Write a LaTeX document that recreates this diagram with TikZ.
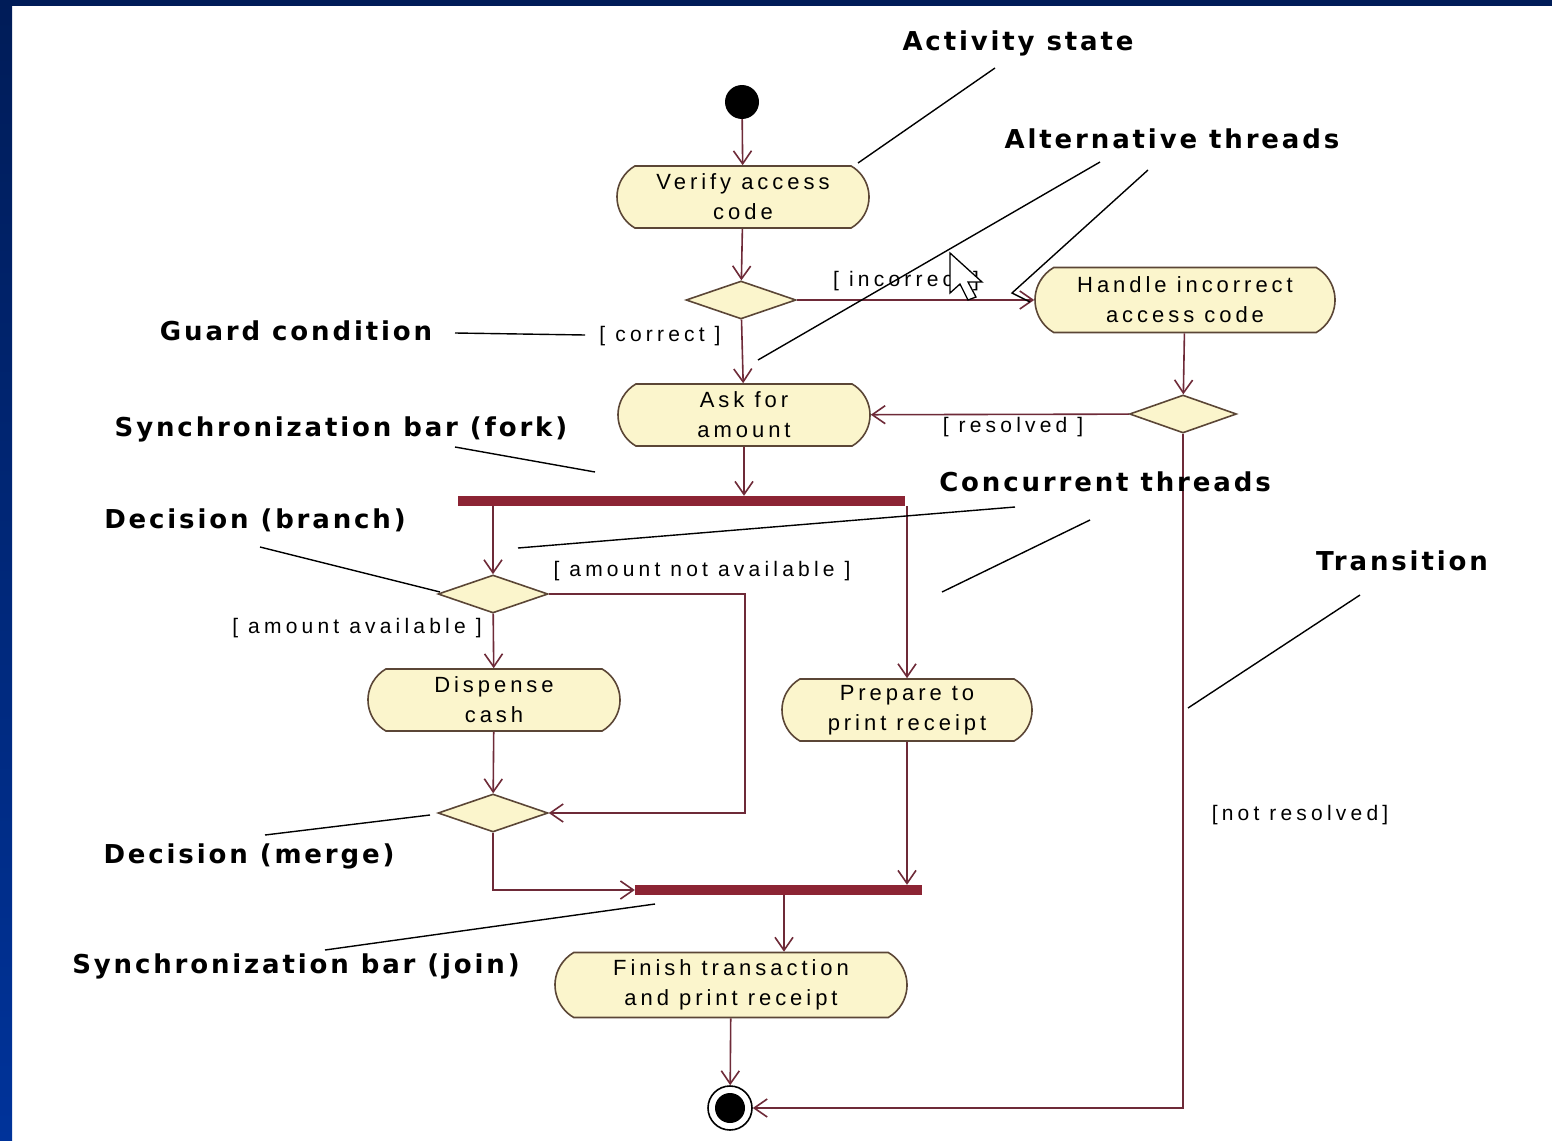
\documentclass[tikz,border=0pt]{standalone}
\usepackage{fontspec}
\setmainfont{Liberation Sans}
\newfontfamily\notefont{DejaVu Sans}[LetterSpace=11]
\newfontfamily\boxfont{Liberation Sans}[LetterSpace=18]
\newfontfamily\guardfont{Liberation Sans}[LetterSpace=20]
\usetikzlibrary{shapes.geometric,shapes.misc,arrows.meta}

\definecolor{actfill}{HTML}{FBF5CC}
\definecolor{actline}{HTML}{5B4636}
\definecolor{flowc}{HTML}{6E2A38}
\definecolor{barc}{HTML}{8C2434}
\definecolor{navytop}{HTML}{001C58}
\definecolor{navybot}{HTML}{00339A}

\tikzset{
  act/.style={rounded rectangle, rounded rectangle arc length=120,
    draw=actline, fill=actfill, line width=1.6, minimum width=252,
    minimum height=62, inner sep=0, align=center, text=black,
    font=\boxfont\fontsize{22}{30}\selectfont},
  dec/.style={diamond, draw=actline, fill=actfill, line width=1.6,
    minimum width=110, minimum height=38, inner sep=0},
  syncbar/.style={rectangle, fill=barc, minimum height=10, inner sep=0},
  initial/.style={circle, fill=black, minimum size=34, inner sep=0},
  final/.style={circle, draw=black, line width=1.6, minimum size=44, inner sep=0,
    path picture={\fill[black] (path picture bounding box.center) circle (15);}},
  flow/.style={draw=flowc, line width=1.6,
    -{Straight Barb[length=13, width=18, line width=1.6]}},
  guard/.style={font=\guardfont\fontsize{21}{24}\selectfont, text=black, inner sep=0},
  note/.style={font=\notefont\bfseries\fontsize{26}{30}\selectfont, text=black, inner sep=0},
  pointer/.style={draw=black, line width=1.4},
}

\begin{document}
\begin{tikzpicture}[x=1pt, y=-1pt]
\useasboundingbox (0,0) rectangle (1552,1140);
\fill[white] (0,0) rectangle (1552,1140);
% slide frame
\shade[top color=navytop, bottom color=navybot] (0,0) rectangle (12,1140);
\fill[navytop] (0,0) rectangle (1552,6);

% activity nodes
\node[initial] (start) at (742,102) {};
\node[act] (verify) at (743,197) {Verify access\\code};
\node[dec] (d1) at (741,300) {};
\node[act, minimum width=300, minimum height=65] (handle) at (1185,300) {Handle incorrect\\access code};
\node[act] (ask) at (744,415) {Ask for\\amount};
\node[dec, minimum width=107] (d2) at (1183,414) {};
\node[syncbar, minimum width=447] (fork) at (681.5,501) {};
\node[dec] (d3) at (493,594) {};
\node[act] (dispense) at (494,700) {Dispense\\cash};
\node[act, minimum width=250] (prepare) at (907,710) {Prepare to\\print receipt};
\node[dec] (d4) at (493,813) {};
\node[syncbar, minimum width=287] (join) at (778.5,890) {};
\node[act, minimum width=352, minimum height=65] (finish) at (731,985) {Finish transaction\\and print receipt};
\node[final] (end) at (730,1108) {};
\coordinate (loop) at (745,594);

% transitions
\draw[flow] (start) -- (verify);
\draw[flow] (verify) -- (d1);
\draw[flow] (d1) -- (ask);
\draw[flow] (d1) -- (handle);
\draw[flow] (handle) -- (d2);
\draw[flow] (d2) -- (ask);
\draw[flow] (ask) -- (ask |- fork.north);
\draw[flow] (fork.south -| d3) -- (d3);
\draw[flow] (fork.south -| prepare) -- (prepare);
\draw[flow] (d3) -- (dispense);
\draw[flow] (d3.east) -- (loop) |- (d4.east);
\draw[flow] (dispense) -- (d4);
\draw[flow] (prepare) -- (prepare |- join.north);
\draw[flow] (d4) |- (join.west);
\draw[flow] ([xshift=5.5]join.south) -- ([xshift=5.5]join.south |- finish.north);
\draw[flow] (finish) -- (end);
\draw[flow] (d2) -- (d2 |- end) -- (end);

% guard conditions
\node[guard] (g1) at (660,336) {[ correct ]};
\node[guard, anchor=west] (g2) at (833,281) {[ incorrect ]};
\node[guard] (g3) at (1013,427) {[ resolved ]};
\node[guard] (g4) at (702,571) {[ amount not available ]};
\node[guard] (g5) at (357,628) {[ amount available ]};
\node[guard] (g6) at (1300,815) {[not resolved]};

% annotations
\node[note] (nact) at (1018,43) {Activity state};
\node[note] (nalt) at (1172,139) {Alternative threads};
\node[note] (nguard) at (296,331) {Guard condition};
\node[note] (nfork) at (341,429) {Synchronization bar (fork)};
\node[note] (nbranch) at (255,520) {Decision (branch)};
\node[note] (nconc) at (1105,482) {Concurrent threads};
\node[note] (ntrans) at (1402,561) {Transition};
\node[note] (nmerge) at (249,856) {Decision (merge)};
\node[note] (njoin) at (296,966) {Synchronization bar (join)};

\coordinate (pa1) at (995,68);   \coordinate (pa2) at (858,163);
\coordinate (pb1) at (1100,162); \coordinate (pb2) at (758,360);
\coordinate (pc1) at (1148,170); \coordinate (pc2) at (1012,293); \coordinate (pc3) at (1030,302);
\coordinate (pd1) at (455,333);  \coordinate (pd2) at (585,335);
\coordinate (pe1) at (455,447);  \coordinate (pe2) at (595,472);
\coordinate (pf1) at (260,547);  \coordinate (pf2) at (440,592);
\coordinate (pg1) at (1015,507); \coordinate (pg2) at (518,548);
\coordinate (ph1) at (1090,520); \coordinate (ph2) at (942,592);
\coordinate (pi1) at (1360,595); \coordinate (pi2) at (1188,708);
\coordinate (pj1) at (265,835);  \coordinate (pj2) at (430,815);
\coordinate (pk1) at (325,950);  \coordinate (pk2) at (655,904);

\draw[pointer] (pa1) -- (pa2);
\draw[pointer] (pb1) -- (pb2);
\draw[pointer] (pc1) -- (pc2) -- (pc3);
\draw[pointer] (pd1) -- (pd2);
\draw[pointer] (pe1) -- (pe2);
\draw[pointer] (pf1) -- (pf2);
\draw[pointer] (pg1) -- (pg2);
\draw[pointer] (ph1) -- (ph2);
\draw[pointer] (pi1) -- (pi2);
\draw[pointer] (pj1) -- (pj2);
\draw[pointer] (pk1) -- (pk2);

% mouse pointer
\draw[black, fill=white, line width=1.3, line join=miter]
  (950,253) -- (950,293) -- (960,284) -- (968,300) -- (976,297)
  -- (968,282) -- (982,282) -- cycle;
\end{tikzpicture}
\end{document}
